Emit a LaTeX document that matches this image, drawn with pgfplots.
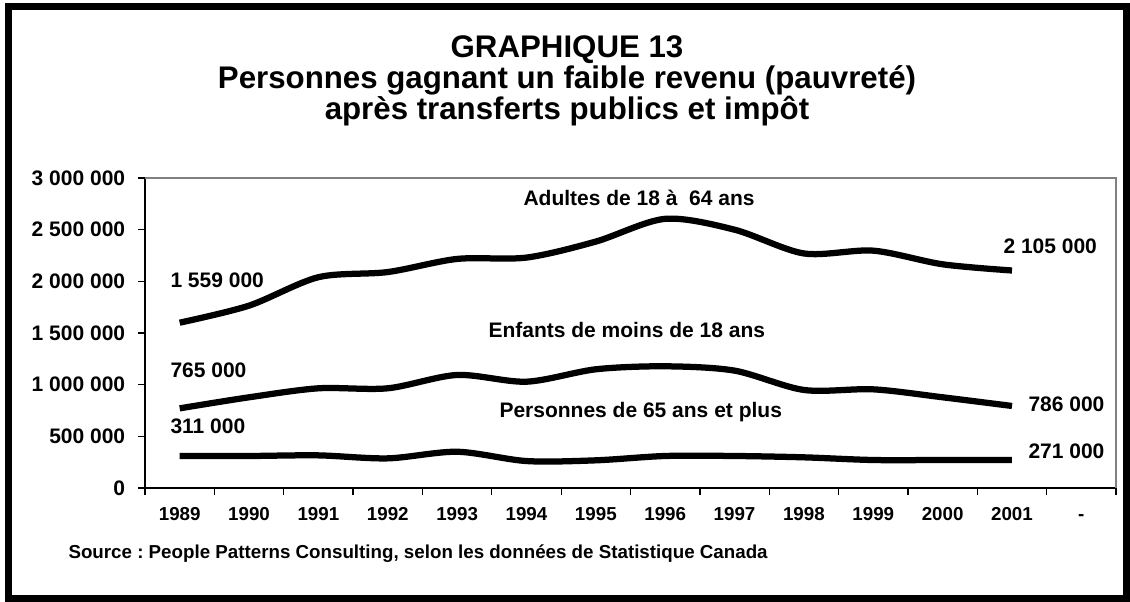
\documentclass[border=0pt]{standalone}
\usepackage{fontspec}
\setmainfont{Liberation Sans}
\usepackage{pgfplots}
\pgfplotsset{compat=1.18}
\frenchspacing

\newcommand\lbl{\fontsize{8.4}{10}\selectfont\bfseries}
\newcommand\sml{\fontsize{7.5}{9}\selectfont\bfseries}

\begin{document}
\begin{tikzpicture}
% frame and titles, in pixel units of the reference
\begin{scope}[x=0.4pt,y=-0.4pt]
\useasboundingbox (0,0) rectangle (1130,601);
\draw[line width=2.6pt] (8.5,6.3) rectangle (1126.5,598.5);
\node[anchor=base,font=\fontsize{12.5}{14}\selectfont\bfseries] at (567,57) {GRAPHIQUE 13};
\node[anchor=base,font=\fontsize{12.5}{14}\selectfont\bfseries] at (567,88) {Personnes gagnant un faible revenu (pauvreté)};
\node[anchor=base,font=\fontsize{12.5}{14}\selectfont\bfseries] at (567,119) {après transferts publics et impôt};
\node[anchor=base west,inner sep=0pt,font=\sml] at (68,558) {Source : People Patterns Consulting, selon les données de Statistique Canada};
% series labels
\node[anchor=base west,inner sep=0pt,font=\lbl] at (523,205) {Adultes de 18 à \ 64 ans};
\node[anchor=base west,inner sep=0pt,font=\lbl] at (488,337) {Enfants de moins de 18 ans};
\node[anchor=base west,inner sep=0pt,font=\lbl] at (499,417) {Personnes de 65 ans et plus};
\node[anchor=base west,inner sep=0pt,font=\lbl] at (170,287) {1 559 000};
\node[anchor=base west,inner sep=0pt,font=\lbl] at (170,377) {765 000};
\node[anchor=base west,inner sep=0pt,font=\lbl] at (170,433) {311 000};
\node[anchor=base west,inner sep=0pt,font=\lbl] at (1003,253) {2 105 000};
\node[anchor=base west,inner sep=0pt,font=\lbl] at (1028,411.5) {786 000};
\node[anchor=base west,inner sep=0pt,font=\lbl] at (1028,458) {271 000};
\end{scope}

\begin{axis}[
  at={(58pt,-195.2pt)}, anchor=south west,
  scale only axis, width=388.4pt, height=124pt,
  xmin=-0.5, xmax=13.5, ymin=0, ymax=3000000,
  scaled y ticks=false,
  axis lines*=left,
  axis line style={black, line width=0.6pt},
  tick align=outside,
  major tick length=2.8pt,
  tick style={black, line width=0.5pt},
  xtick={-0.5,0.5,...,13.5},
  xticklabels={},
  extra x ticks={0,...,13},
  extra x tick labels={1989,1990,1991,1992,1993,1994,1995,1996,1997,1998,1999,2000,2001,-},
  extra x tick style={major tick length=0pt,
    tick label style={font=\sml, anchor=base, yshift=-12.8pt}},
  ytick={0,500000,1000000,1500000,2000000,2500000,3000000},
  yticklabels={0,500 000,1 000 000,1 500 000,2 000 000,2 500 000,3 000 000},
  yticklabel style={font=\lbl, xshift=-1.6pt},
  clip=false,
]
\draw[gray, line width=0.6pt] (rel axis cs:0,1) -- (rel axis cs:1,1) -- (rel axis cs:1,0);
% Adultes de 18 a 64 ans
\addplot[black, line width=2.5pt, smooth, tension=0.5] coordinates {
 (0,1600000) (1,1765000) (2,2040000) (3,2090000) (4,2217000) (5,2230000)
 (6,2385000) (7,2605000) (8,2500000) (9,2270000) (10,2297000) (11,2165000) (12,2105000)};
% Enfants de moins de 18 ans
\addplot[black, line width=2.5pt, smooth, tension=0.5] coordinates {
 (0,771000) (1,878000) (2,965000) (3,965000) (4,1094000) (5,1029000)
 (6,1149000) (7,1178000) (8,1136000) (9,949000) (10,955000) (11,878000) (12,794000)};
% Personnes de 65 ans et plus
\addplot[black, line width=2.5pt, smooth, tension=0.5] coordinates {
 (0,310000) (1,310000) (2,316000) (3,287000) (4,351000) (5,261000)
 (6,268000) (7,310000) (8,310000) (9,297000) (10,271000) (11,271000) (12,271000)};
\end{axis}
\end{tikzpicture}
\end{document}
